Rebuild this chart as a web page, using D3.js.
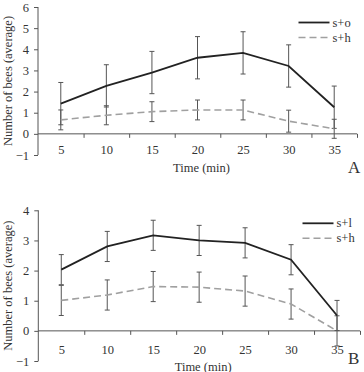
<!DOCTYPE html>
<html><head><meta charset="utf-8">
<script src="https://cdn.jsdelivr.net/npm/d3@7"></script>
<style>body{margin:0;background:#fff}svg{display:block}text{font-family:"Liberation Serif","Times New Roman",serif;fill:#333}</style>
</head><body>
<script>
const times = [5, 10, 15, 20, 25, 30, 35];
const tickBounds = [7.5, 12.5, 17.5, 22.5, 27.5, 32.5, 37.5];
// Panel A
const aSO = [1.43, 2.27, 2.9, 3.6, 3.83, 3.21, 1.26];
const aSOerr = [1.0, 1.0, 1.0, 1.0, 1.0, 1.0, 1.0];
const aSH = [0.66, 0.88, 1.05, 1.13, 1.13, 0.6, 0.24];
const aSHerr = [0.47, 0.45, 0.47, 0.47, 0.47, 0.52, 0.45];
const aYTicks = [-1, 0, 1, 2, 3, 4, 5, 6];
// Panel B
const bSL = [2.03, 2.8, 3.17, 3.0, 2.92, 2.36, 0.51];
const bSLerr = [0.5, 0.5, 0.5, 0.5, 0.5, 0.5, 0.5];
const bSH = [1.01, 1.19, 1.47, 1.45, 1.32, 0.89, 0.0];
const bSHerr = [0.5, 0.5, 0.5, 0.5, 0.5, 0.5, 0.5];
const bYTicks = [-1, 0, 1, 2, 3, 4];

const svg = d3.select("body").append("svg").attr("width", 364).attr("height", 372);

function panel(o) {
  const x = d3.scaleLinear().domain([2.5, 37.5]).range([o.x0, o.x1]);
  const y = d3.scaleLinear().domain([o.ymin, o.ymax]).range([o.yb, o.yt]);
  const g = svg.append("g");
  const axCol = "#555";
  // y axis
  const ya = g.append("g").attr("transform", `translate(${o.x0},0)`)
    .call(d3.axisLeft(y).tickValues(o.yticks).tickSize(4).tickPadding(5).tickFormat(d3.format("d")));
  ya.select(".domain").attr("stroke", axCol).attr("d", `M0,${y(o.ymin)}V${y(o.ymax)}`);
  ya.selectAll(".tick line").attr("stroke", axCol);
  ya.selectAll("text").attr("font-size", 12.5).attr("fill", "#333").style("font-family", '"Liberation Serif",serif');
  // x axis at y=0
  const xa = g.append("g").attr("transform", `translate(0,${y(0)})`)
    .call(d3.axisBottom(x).tickValues(tickBounds).tickSize(4).tickFormat(""));
  xa.select(".domain").attr("stroke", axCol).attr("d", `M${o.x0},0H${o.x1}`);
  xa.selectAll(".tick line").attr("stroke", axCol);
  const xl = g.append("g").attr("transform", `translate(0,${y(0)})`)
    .call(d3.axisBottom(x).tickValues(times).tickSize(0).tickPadding(o.xpad));
  xl.select(".domain").remove();
  xl.selectAll("text").attr("font-size", 12.5).attr("fill", "#333").style("font-family", '"Liberation Serif",serif');

  // error bars
  function errs(vals, err) {
    const eg = g.append("g").attr("stroke", "#555").attr("stroke-width", 1).attr("fill", "none");
    times.forEach((t, i) => {
      const cx = x(t), top = y(vals[i] + err[i]), bot = y(vals[i] - err[i]);
      eg.append("path").attr("d", `M${cx},${top}V${bot}M${cx-2.5},${top}H${cx+2.5}M${cx-2.5},${bot}H${cx+2.5}`);
    });
  }
  errs(o.s1, o.e1);
  errs(o.s2, o.e2);
  const line = d3.line().x((d, i) => x(times[i])).y(d => y(d));
  g.append("path").datum(o.s2).attr("d", line).attr("fill", "none").attr("stroke", "#a0a0a0")
    .attr("stroke-width", 1.6).attr("stroke-dasharray", "7,4");
  g.append("path").datum(o.s1).attr("d", line).attr("fill", "none").attr("stroke", "#222")
    .attr("stroke-width", 1.8);

  // legend
  g.append("line").attr("x1", o.lx).attr("x2", o.lx + 31).attr("y1", o.ly).attr("y2", o.ly)
    .attr("stroke", "#222").attr("stroke-width", 1.8);
  g.append("text").attr("x", o.lx + 34).attr("y", o.ly + 4).attr("font-size", 12.5).text(o.n1);
  g.append("line").attr("x1", o.lx).attr("x2", o.lx + 31).attr("y1", o.ly + 15).attr("y2", o.ly + 15)
    .attr("stroke", "#a0a0a0").attr("stroke-width", 1.6).attr("stroke-dasharray", "7,4");
  g.append("text").attr("x", o.lx + 34).attr("y", o.ly + 19).attr("font-size", 12.5).text("s+h");

  // titles
  g.append("text").attr("transform", `translate(12,${(y(o.ymin) + y(o.ymax)) / 2}) rotate(-90)`)
    .attr("text-anchor", "middle").attr("font-size", 12.5).text("Number of bees (average)");
  g.append("text").attr("x", (o.x0 + o.x1) / 2 + 4).attr("y", o.ty).attr("text-anchor", "middle")
    .attr("font-size", 12.5).text("Time (min)");
  g.append("text").attr("x", 348).attr("y", o.ly2).attr("font-size", 17).text(o.letter);
}

panel({x0: 38, x1: 357, ymin: -1, ymax: 6, yb: 155, yt: 7, yticks: aYTicks, xpad: 11,
  s1: aSO, e1: aSOerr, s2: aSH, e2: aSHerr, n1: "s+o", lx: 298.5, ly: 22.5, ty: 172, letter: "A", ly2: 173});
panel({x0: 38.3, x1: 360, ymin: -1, ymax: 4, yb: 361, yt: 210.3, yticks: bYTicks, xpad: 14,
  s1: bSL, e1: bSLerr, s2: bSH, e2: bSHerr, n1: "s+l", lx: 302.5, ly: 223.3, ty: 371, letter: "B", ly2: 364});
</script>
</body></html>
